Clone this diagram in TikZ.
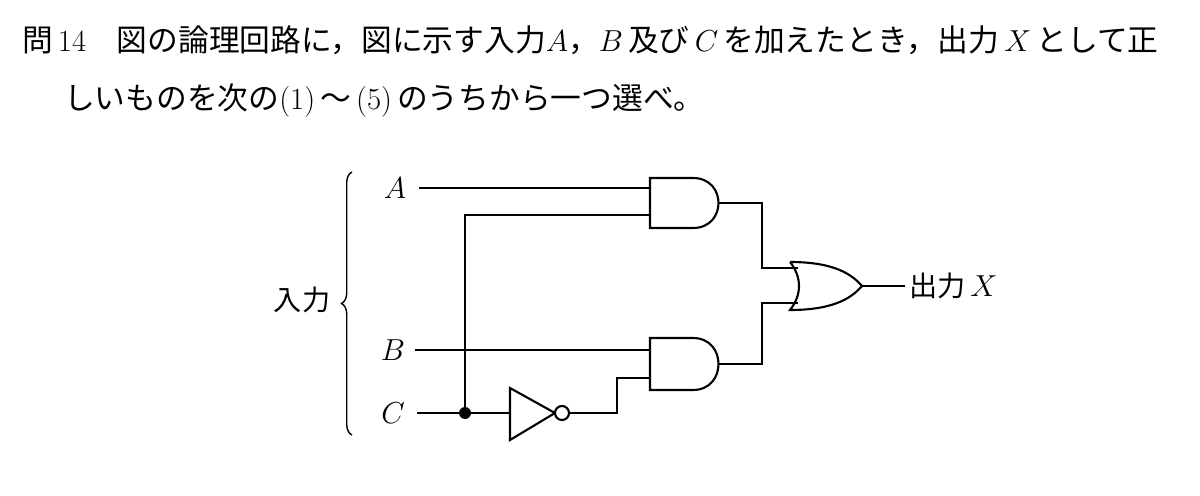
\documentclass[tikz,border=0pt]{standalone}
\usepackage{fontspec}
\newfontfamily\jp{Noto Sans CJK JP}
\usetikzlibrary{decorations.pathreplacing}
\tikzset{
  wire/.style={line width=1.2pt},
  gate/.style={line width=1.2pt, fill=white},
  lbl/.style={font=\fontsize{16}{18}\selectfont, inner sep=1pt},
  qtext/.style={font=\fontsize{17.5}{20}\selectfont, inner sep=1pt}
}
\begin{document}
\begin{tikzpicture}[x=0.02cm,y=-0.02cm]
\useasboundingbox (0,0) rectangle (1200,496);
% Question text
\node[qtext, anchor=west] (q1) at (20,40) {{\jp 問}\,14\quad{\jp 図の論理回路に，図に示す入力}$A${\jp ，}$B$\,{\jp 及び}\,$C$\,{\jp を加えたとき，出力}\,$X$\,{\jp として正}};
\node[qtext, anchor=west] (q2) at (62,100) {{\jp しいものを次の}(1)\,{\jp ～}\,(5)\,{\jp のうちから一つ選べ。}};

% Input labels
\node[lbl] (A) at (395,188) {$A$};
\node[lbl] (B) at (393,350) {$B$};
\node[lbl] (C) at (393,413) {$C$};
\node[lbl] (in) at (302,300) {\jp 入力};
\draw[line width=0.8pt, decorate, decoration={brace, amplitude=6pt}] (352,435) -- (352,172);

% Gates
\draw[gate] (650,178) -- (693,178) .. controls (727,178) and (727,228) .. (693,228) -- (650,228) -- cycle;
\draw[gate] (650,338) -- (693,338) .. controls (727,338) and (727,390) .. (693,390) -- (650,390) -- cycle;
\draw[gate] (790,262) .. controls (830,262) and (850,272) .. (862,286)
  .. controls (850,300) and (830,310) .. (790,310)
  .. controls (802,295) and (802,277) .. (790,262);
\draw[gate] (510,388) -- (555,413) -- (510,440) -- cycle;
\draw[gate] (562,413) circle (7);

% Pins
\coordinate (a1a) at (650,188);
\coordinate (a1b) at (650,215);
\coordinate (a1o) at (719,203);
\coordinate (a2a) at (650,350);
\coordinate (a2b) at (650,378);
\coordinate (a2o) at (719,364);
\coordinate (ora) at (798,268);
\coordinate (orb) at (798,303);
\coordinate (oro) at (862,286);
\coordinate (nin) at (510,413);
\coordinate (nout) at (569,413);
\coordinate (j) at (465,413);

% Wires
\draw[wire] (A) ++(24,0) -- (a1a);
\draw[wire] (B) ++(22,0) -- (a2a);
\draw[wire] (C) ++(24,0) -- (nin);
\draw[wire] (j) |- (a1b);
\fill (j) circle (6);
\draw[wire] (nout) -- (617,413) |- (a2b);
\draw[wire] (a1o) -| (762,268) -- (ora);
\draw[wire] (a2o) -| (762,303) -- (orb);
\draw[wire] (oro) -- (905,286) node[lbl, anchor=west, inner sep=2pt] (X) {{\jp 出力}\,$X$};
\end{tikzpicture}
\end{document}
